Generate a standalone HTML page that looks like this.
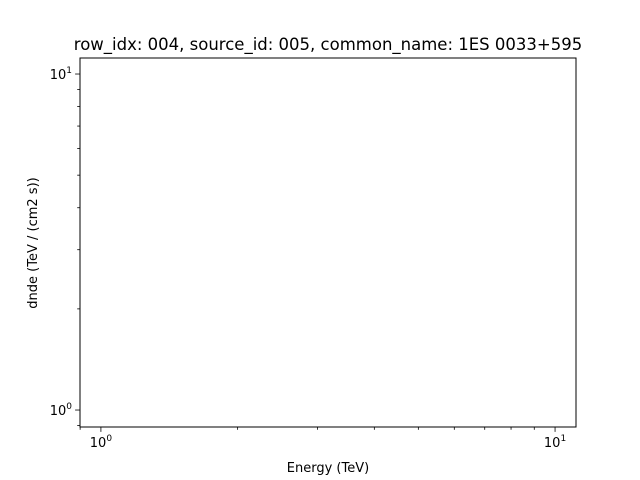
<!DOCTYPE html>
<html><head><meta charset="utf-8"><style>
body{margin:0;background:#fff}
svg{display:block;font-family:"DejaVu Sans","Liberation Sans",sans-serif}
</style></head><body>
<svg id="c" width="640" height="480">
<rect width="640" height="480" fill="#fff"/>
<text x="328" y="50" font-size="16.5" text-anchor="middle">row_idx: 004, source_id: 005, common_name: 1ES 0033+595</text>
<text x="328" y="472" font-size="13" text-anchor="middle">Energy (TeV)</text>
<text transform="translate(37,243) rotate(-90)" font-size="13" text-anchor="middle">dnde (TeV / (cm2 s))</text>
<g id="ticks"></g>
<rect x="80" y="58" width="496" height="369" fill="none" stroke="#000" stroke-width="1"/>
</svg>
<script>
const xMajorTicks=[1,10];
const xTickLabels=["10","10"];
const yMajorTicks=[1,10];
const yTickLabels=["10","10"];
const xDomain=[0.8994,11.12];
const yDomain=[0.8902,11.16];
const L=80,R=576,T=58,B=427;
function xs(v){return L+(Math.log10(v)-Math.log10(xDomain[0]))/(Math.log10(xDomain[1])-Math.log10(xDomain[0]))*(R-L);}
function ys(v){return B-(Math.log10(v)-Math.log10(yDomain[0]))/(Math.log10(yDomain[1])-Math.log10(yDomain[0]))*(B-T);}
const g=document.getElementById('ticks');
const NS='http://www.w3.org/2000/svg';
function line(x1,y1,x2,y2,name){const l=document.createElementNS(NS,'line');
l.setAttribute('x1',x1);l.setAttribute('y1',y1);l.setAttribute('x2',x2);l.setAttribute('y2',y2);
l.setAttribute('stroke','#000');l.setAttribute('stroke-width','0.8');


g.appendChild(l);}
function label(x,y,base,anchor,name){const t=document.createElementNS(NS,'text');
t.setAttribute('x',x);t.setAttribute('y',y);t.setAttribute('font-size','13');t.setAttribute('text-anchor',anchor);
t.innerHTML=base+'<tspan font-size="9" dy="-6">'+'0</tspan>';


g.appendChild(t);}
const exps=[0,1];
// minor ticks
for(let d=-1;d<=1;d++){for(let m=2;m<=9;m++){const v=m*Math.pow(10,d);
 if(v>xDomain[0]&&v<xDomain[1]){const x=xs(v);line(x,B,x,B+2.8,'x-minor-tick');}
 if(v>yDomain[0]&&v<yDomain[1]){const y=ys(v);line(L,y,L-2.8,y,'y-minor-tick');}}}
xMajorTicks.forEach((v,i)=>{const x=xs(v);line(x,B,x,B+4.9,'x-major-tick');
 const t=document.createElementNS(NS,'text');t.setAttribute('x',x);t.setAttribute('y',B+20);t.setAttribute('font-size','13');t.setAttribute('text-anchor','middle');
 t.innerHTML=xTickLabels[i]+'<tspan font-size="9" dy="-6">'+exps[i]+'</tspan>';
 
 
 g.appendChild(t);});
yMajorTicks.forEach((v,i)=>{const y=ys(v);line(L,y,L-4.9,y,'y-major-tick');
 const t=document.createElementNS(NS,'text');t.setAttribute('x',L-8);t.setAttribute('y',y+5);t.setAttribute('font-size','13');t.setAttribute('text-anchor','end');
 t.innerHTML=yTickLabels[i]+'<tspan font-size="9" dy="-6">'+exps[i]+'</tspan>';
 
 
 g.appendChild(t);});
</script>
</body></html>
